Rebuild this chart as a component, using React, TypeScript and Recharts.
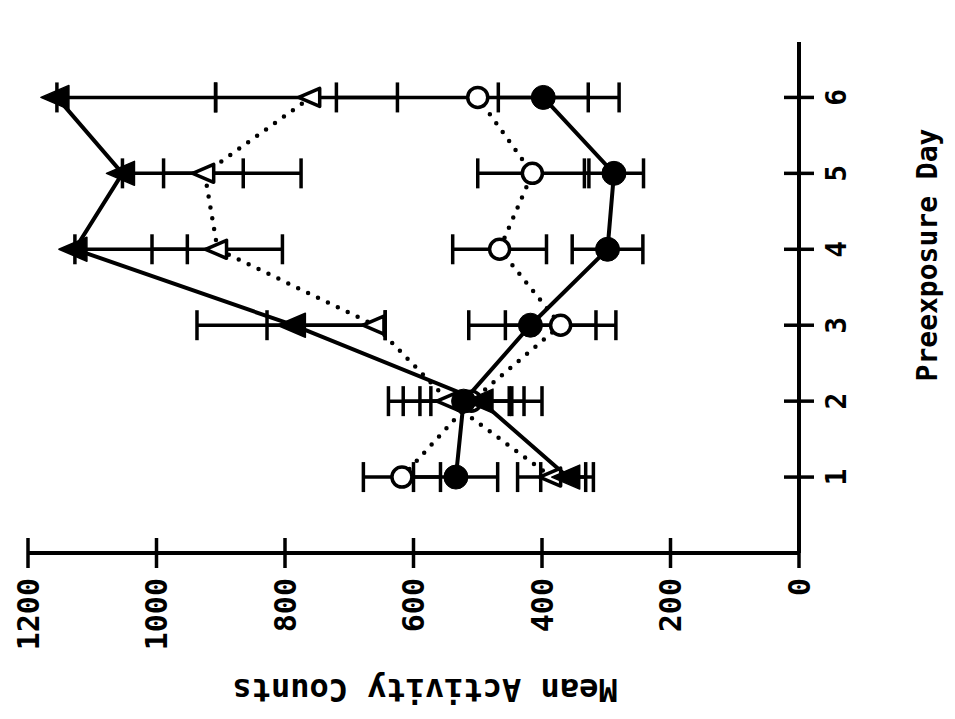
import React from 'react';
import { LineChart, Line, XAxis, YAxis, ErrorBar, Label } from 'recharts';

// Preexposure day (category) axis
const days = [1, 2, 3, 4, 5, 6];
const dayTicks = [1, 2, 3, 4, 5, 6];
const countTicks = [0, 200, 400, 600, 800, 1000, 1200];

// mean activity counts per group, errors as [below, above]
const filledTri = [360, 495, 787, 1127, 1053, 1155];
const filledTriErr = [[40, 42], [95, 95], [143, 150], [175, 0], [278, 0], [247, 0]];
const openTri = [385, 545, 660, 905, 925, 760];
const openTriErr = [[53, 53], [94, 94], [16, 168], [101, 102], [60, 64], [135, 148]];
const openCirc = [618, 510, 371, 466, 415, 500];
const openCircErr = [[60, 60], [63, 63], [86, 86], [73, 73], [88, 85], [220, 220]];
const filledCirc = [534, 522, 418, 298, 288, 398];
const filledCircErr = [[65, 66], [94, 94], [102, 96], [55, 55], [46, 46], [70, 70]];

const data = days.map((day, i) => ({
  day,
  ft: filledTri[i], ftErr: filledTriErr[i],
  ot: openTri[i], otErr: openTriErr[i],
  oc: openCirc[i], ocErr: openCircErr[i],
  fc: filledCirc[i], fcErr: filledCircErr[i],
}));

const FONT = '"DejaVu Sans Mono", "Liberation Mono", monospace';
const INK = '#000';

// the figure was printed sideways, so the chart is drawn upright and turned -90deg
const W = 719;
const H = 955;

const triDot = (filled: boolean) => (props: any) => {
  const { cx, cy, index } = props;
  if (cx == null || cy == null) return null;
  const top = filled ? 16 : 12;
  const bot = filled ? 12 : 9;
  const hw = filled ? 12 : 9;
  return (
    <path
      key={`tri-${filled}-${index}`}
      d={`M${cx},${cy - top} L${cx + hw},${cy + bot} L${cx - hw},${cy + bot} Z`}
      fill={filled ? INK : '#fff'}
      stroke={INK}
      strokeWidth={filled ? 1.5 : 3.5}
      strokeLinejoin="round"
    />
  );
};

const circDot = (filled: boolean) => (props: any) => {
  const { cx, cy, index } = props;
  if (cx == null || cy == null) return null;
  return (
    <circle
      key={`circ-${filled}-${index}`}
      cx={cx}
      cy={cy}
      r={filled ? 12 : 10}
      fill={filled ? INK : '#fff'}
      stroke={INK}
      strokeWidth={filled ? 1 : 3.5}
    />
  );
};

const CountTick = (props: any) => {
  const { x, y, payload } = props;
  return (
    <g>
      <line x1={x + 10} x2={x + 40} y1={y} y2={y} stroke={INK} strokeWidth={3.5} />
      <text x={x} y={y} dy="0.35em" textAnchor="end" fontFamily={FONT} fontWeight="bold" fontSize={30} fill={INK}>
        {payload.value}
      </text>
    </g>
  );
};

const DayTick = (props: any) => {
  const { x, y, payload } = props;
  return (
    <g>
      <line x1={x} x2={x} y1={y - 12} y2={y - 42} stroke={INK} strokeWidth={3.5} />
      <text x={x} y={y + 10} dy="0.35em" textAnchor="middle" fontFamily={FONT} fontWeight="bold" fontSize={28} fill={INK}>
        {payload.value}
      </text>
    </g>
  );
};

const errStyle = { stroke: INK, strokeWidth: 3.5 };

export default function App() {
  return (
    <div style={{ position: 'absolute', left: 0, top: 0, width: 955, height: 719, overflow: 'hidden', background: '#fff' }}>
      <div
        style={{
          position: 'absolute',
          left: 0,
          top: 0,
          width: W,
          height: H,
          transformOrigin: '0 0',
          transform: `translateY(${W}px) rotate(-90deg)`,
        }}
      >
        <LineChart width={W} height={H} data={data} margin={{ top: 28, right: 42, bottom: 96, left: 66 }}>
          <XAxis
            dataKey="day"
            type="number"
            domain={[0, 6.73]}
            ticks={dayTicks}
            height={60}
            axisLine={{ stroke: INK, strokeWidth: 4 }}
            tickLine={false}
            tickSize={15}
            tickMargin={12}
            tick={<DayTick />}
          >
            <Label
              content={() => (
                <text x={464} y={927} dy="0.35em" textAnchor="middle" fontFamily={FONT} fontWeight="bold" fontSize={28} fill={INK}>
                  Preexposure Day
                </text>
              )}
            />
          </XAxis>
          <YAxis
            type="number"
            domain={[0, 1200]}
            ticks={countTicks}
            width={100}
            axisLine={{ stroke: INK, strokeWidth: 4 }}
            tickLine={false}
            tickSize={15}
            tickMargin={10}
            tick={<CountTick />}
          >
            <Label
              content={() => (
                <text
                  x={29}
                  y={425}
                  dy="0.35em"
                  transform="rotate(-90, 29, 425)"
                  textAnchor="middle"
                  fontFamily={FONT}
                  fontWeight="bold"
                  fontSize={32}
                  fill={INK}
                >
                  Mean Activity Counts
                </text>
              )}
            />
          </YAxis>
          <Line dataKey="oc" stroke={INK} strokeWidth={4.5} strokeDasharray="0 11" strokeLinecap="round" dot={circDot(false)} isAnimationActive={false}>
            <ErrorBar dataKey="ocErr" direction="y" width={15} {...errStyle} />
          </Line>
          <Line dataKey="ot" stroke={INK} strokeWidth={4.5} strokeDasharray="0 11" strokeLinecap="round" dot={triDot(false)} isAnimationActive={false}>
            <ErrorBar dataKey="otErr" direction="y" width={15} {...errStyle} />
          </Line>
          <Line dataKey="fc" stroke={INK} strokeWidth={4} dot={circDot(true)} isAnimationActive={false}>
            <ErrorBar dataKey="fcErr" direction="y" width={15} {...errStyle} />
          </Line>
          <Line dataKey="ft" stroke={INK} strokeWidth={4} dot={triDot(true)} isAnimationActive={false}>
            <ErrorBar dataKey="ftErr" direction="y" width={15} {...errStyle} />
          </Line>
        </LineChart>
      </div>
    </div>
  );
}
